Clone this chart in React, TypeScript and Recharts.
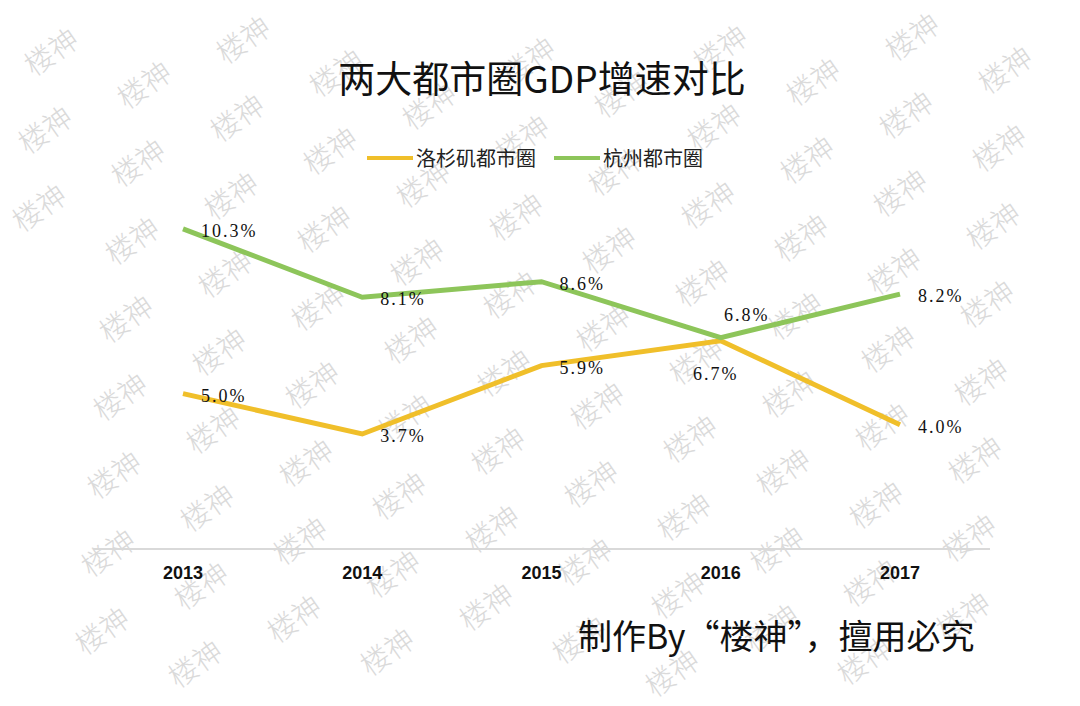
import { LineChart, Line, XAxis, YAxis } from "recharts";

const years = ["2013", "2014", "2015", "2016", "2017"];
const laGrowth = [5.0, 3.7, 5.9, 6.7, 4.0];
const hzGrowth = [10.3, 8.1, 8.6, 6.8, 8.2];

const seriesNames = { la: "洛杉矶都市圈", hz: "杭州都市圈" };
const colors = { la: "#F0BF2A", hz: "#8DC55A" };

const data = years.map((year, i) => ({
  year,
  la: laGrowth[i],
  hz: hzGrowth[i],
}));

const cjk = '"Noto Sans CJK SC", "Noto Sans", sans-serif';

// repeated "楼神" watermark behind the chart
function Watermark() {
  const items: { x: number; y: number }[] = [];
  for (let i = -2; i < 14; i++) {
    for (let j = -8; j < 11; j++) {
      const x = 50 + 93 * i - 6 * j;
      const y = 50 + 33 * i + 78 * j;
      if (x > 34 && x < 1046 && y > 26 && y < 680) items.push({ x, y });
    }
  }
  return (
    <svg width={1080} height={706} style={{ position: "absolute", left: 0, top: 0 }}>
      {items.map((p, k) => (
        <text
          key={k}
          x={p.x}
          y={p.y}
          textAnchor="middle"
          dominantBaseline="central"
          transform={`rotate(-35 ${p.x} ${p.y})`}
          fontFamily={cjk}
          fontWeight={300}
          fontSize={29}
          fill="#dadada"
        >
          楼神
        </text>
      ))}
    </svg>
  );
}

const makeLabel = (key: "la" | "hz") => (props: any) => {
  const { x, y, value, index } = props;
  let dx = 18;
  let dy = 2;
  let anchor = "start";
  if (index === 3 && key === "hz") {
    dx = 26;
    dy = -23;
    anchor = "middle";
  }
  if (index === 3 && key === "la") {
    dx = -5;
    dy = 33;
    anchor = "middle";
  }
  return (
    <text
      x={x + dx}
      y={y + dy}
      textAnchor={anchor}
      dominantBaseline="central"
      fontFamily='"Liberation Serif", serif'
      fontSize={18}
      letterSpacing={2}
      fill="#111"
    >
      {Number(value).toFixed(1)}%
    </text>
  );
};

function LegendItem({ color, label }: { color: string; label: string }) {
  return (
    <div style={{ display: "flex", alignItems: "center", marginRight: 18 }}>
      <div style={{ width: 46, height: 4, background: color, marginRight: 3 }} />
      <span style={{ fontSize: 20, color: "#222" }}>{label}</span>
    </div>
  );
}

export default function App() {
  return (
    <div
      style={{
        position: "fixed",
        left: 0,
        top: 0,
        width: 1080,
        height: 706,
        background: "#fff",
        overflow: "hidden",
        fontFamily: cjk,
      }}
    >
      <Watermark />

      <div
        style={{
          position: "absolute",
          top: 59,
          left: 0,
          width: 1084,
          textAlign: "center",
          fontSize: 37,
          lineHeight: "37px",
          color: "#111",
        }}
      >
        两大都市圈GDP增速对比
      </div>

      <div
        style={{
          position: "absolute",
          top: 146,
          left: 367,
          display: "flex",
          lineHeight: "24px",
        }}
      >
        <LegendItem color={colors.la} label={seriesNames.la} />
        <LegendItem color={colors.hz} label={seriesNames.hz} />
      </div>

      <div style={{ position: "absolute", left: 0, top: 0 }}>
        <LineChart
          width={1080}
          height={706}
          data={data}
          margin={{ top: 176, right: 90, left: 93, bottom: 127 }}
        >
          <XAxis
            dataKey="year"
            height={30}
            padding={{ left: 90, right: 90 }}
            axisLine={{ stroke: "#d9d9d9", strokeWidth: 2 }}
            tickLine={false}
            tickMargin={11}
            tick={{
              fill: "#111",
              fontSize: 18,
              fontWeight: "bold",
              fontFamily: '"Liberation Sans", Arial, sans-serif',
            }}
          />
          <YAxis hide domain={[0, 12]} />
          <Line
            type="linear"
            dataKey="la"
            name={seriesNames.la}
            stroke={colors.la}
            strokeWidth={5}
            dot={false}
            activeDot={false}
            isAnimationActive={false}
            label={makeLabel("la")}
          />
          <Line
            type="linear"
            dataKey="hz"
            name={seriesNames.hz}
            stroke={colors.hz}
            strokeWidth={5}
            dot={false}
            activeDot={false}
            isAnimationActive={false}
            label={makeLabel("hz")}
          />
        </LineChart>
      </div>

      <div
        style={{
          position: "absolute",
          top: 618,
          left: 578,
          fontSize: 34,
          lineHeight: "34px",
          color: "#111",
          whiteSpace: "nowrap",
        }}
      >
        制作By“楼神”，擅用必究
      </div>
    </div>
  );
}
